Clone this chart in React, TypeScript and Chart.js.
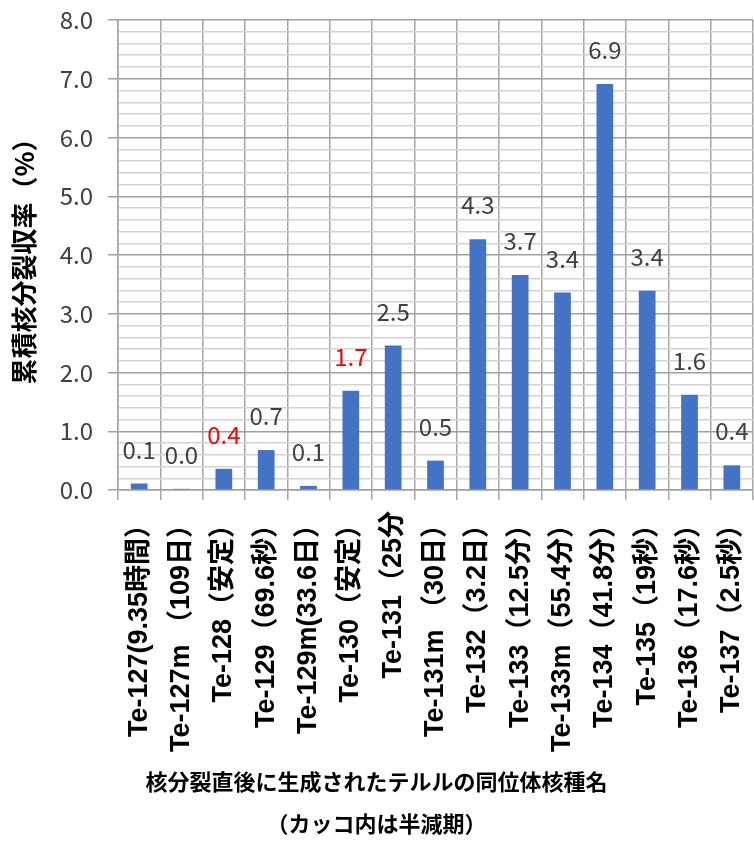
import React, { useEffect, useRef } from "react";
import { Chart, registerables } from "chart.js";

Chart.register(...registerables);

// Tellurium isotopes produced directly by fission (half-life in brackets)
const isotopeLabels = [
  "Te-127(9.35時間）",
  "Te-127m （109日）",
  "Te-128（安定）",
  "Te-129（69.6秒）",
  "Te-129m(33.6日）",
  "Te-130（安定）",
  "Te-131（25分",
  "Te-131m （30日）",
  "Te-132（3.2日）",
  "Te-133（12.5分）",
  "Te-133m（55.4分）",
  "Te-134（41.8分）",
  "Te-135（19秒）",
  "Te-136（17.6秒）",
  "Te-137（2.5秒）",
];

// Cumulative fission yield (%)
const cumulativeYield = [
  0.11, 0.02, 0.36, 0.68, 0.07, 1.69, 2.46, 0.5, 4.27, 3.66, 3.36, 6.91, 3.39, 1.62, 0.42,
];

// Stable isotopes, whose value labels are shown in red
const stableIndices = [2, 5];

const yAxisTitle = "累積核分裂収率（%）";
const xAxisTitleLines = ["核分裂直後に生成されたテルルの同位体核種名", "（カッコ内は半減期）"];

const yMin = 0;
const yMax = 8;
const yMinorStep = 0.2;

const JP_FONT = '"Noto Sans CJK JP", sans-serif';
const LABEL_FONT = '"Liberation Sans", "Noto Sans CJK JP", sans-serif';

const MAJOR_GRID = "#a0a0a0";
const MINOR_GRID = "#d3d3d3";

const isMajor = (v: number) => Math.abs(v - Math.round(v)) < 1e-6;

const valueLabelPlugin = {
  id: "valueLabels",
  afterDatasetsDraw(chart: any) {
    const { ctx } = chart;
    const meta = chart.getDatasetMeta(0);
    ctx.save();
    ctx.font = `24px ${JP_FONT}`;
    ctx.textAlign = "center";
    ctx.textBaseline = "middle";
    meta.data.forEach((bar: any, i: number) => {
      const v = cumulativeYield[i];
      ctx.fillStyle = stableIndices.includes(i) ? "#ff0000" : "#404040";
      ctx.fillText(v.toFixed(1), bar.x, bar.y - 34);
    });
    ctx.restore();
  },
};

export default function App() {
  const canvasRef = useRef<HTMLCanvasElement | null>(null);

  useEffect(() => {
    const canvas = canvasRef.current;
    if (!canvas) return;
    const chart = new Chart(canvas, {
      type: "bar",
      data: {
        labels: isotopeLabels,
        datasets: [
          {
            data: cumulativeYield,
            backgroundColor: "#4472c4",
            borderWidth: 0,
            barPercentage: 0.395,
            categoryPercentage: 1,
          },
        ],
      },
      plugins: [valueLabelPlugin],
      options: {
        responsive: false,
        animation: false,
        devicePixelRatio: 1,
        layout: { padding: { top: 20, right: 1, left: 0, bottom: 0 } },
        plugins: {
          legend: { display: false },
          tooltip: { enabled: false },
          title: {
            display: true,
            position: "bottom",
            text: xAxisTitleLines,
            color: "#000000",
            font: { family: JP_FONT, size: 22, weight: "bold", lineHeight: 42 / 22 },
            padding: { top: 1, bottom: 0 },
          },
        },
        scales: {
          x: {
            ticks: {
              autoSkip: false,
              minRotation: 90,
              maxRotation: 90,
              padding: 11,
              color: "#000000",
              font: { family: LABEL_FONT, size: 27, weight: "bold" },
            },
            grid: {
              offset: true,
              color: "#a6a6a6",
              lineWidth: 1.5,
              tickLength: 10,
              tickColor: "#a6a6a6",
            },
            border: { color: MAJOR_GRID, width: 1.5 },
            afterFit: (axis: any) => {
              axis.height = 270;
              axis.paddingLeft = 0;
              axis.paddingRight = 0;
            },
          },
          y: {
            min: yMin,
            max: yMax,
            ticks: {
              stepSize: yMinorStep,
              autoSkip: false,
              padding: 15,
              color: "#404040",
              font: { family: JP_FONT, size: 24 },
              callback: (value: any) => (isMajor(Number(value)) ? Number(value).toFixed(1) : ""),
            },
            grid: {
              color: (c: any) => (c.tick && isMajor(c.tick.value) ? MAJOR_GRID : MINOR_GRID),
              lineWidth: 1.5,
              tickLength: 10,
              tickColor: (c: any) => (c.tick && isMajor(c.tick.value) ? MAJOR_GRID : "rgba(0,0,0,0)"),
            },
            border: { color: "#a6a6a6", width: 1.5 },
            title: {
              display: true,
              text: yAxisTitle,
              color: "#000000",
              font: { family: JP_FONT, size: 26, weight: "bold" },
              padding: { top: 9, bottom: 0 },
            },
            afterFit: (axis: any) => {
              axis.width = 118;
              axis.paddingTop = 0;
              axis.paddingBottom = 0;
            },
          },
        },
      },
    });
    return () => chart.destroy();
  }, []);

  return (
    <div style={{ position: "fixed", left: 0, top: 0, width: 754, height: 845, background: "#ffffff" }}>
      <canvas ref={canvasRef} width={754} height={845} style={{ display: "block" }} />
    </div>
  );
}
